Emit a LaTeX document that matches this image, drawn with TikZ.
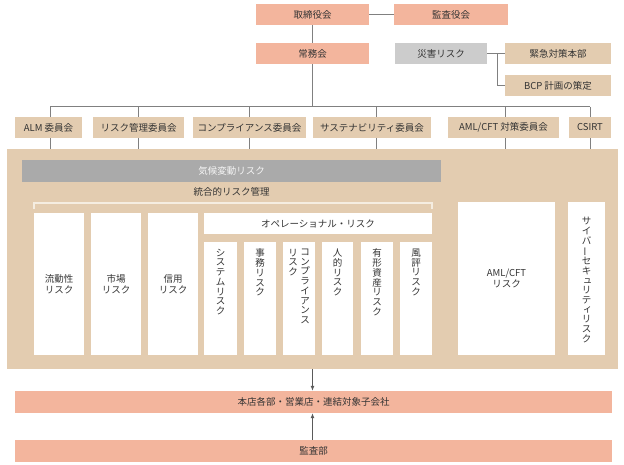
\documentclass[tikz,border=0pt]{standalone}
\usepackage{fontspec}
\usepackage{graphicx}
\setmainfont{Noto Sans CJK JP}
\usetikzlibrary{arrows.meta,calc}
\definecolor{salmonc}{HTML}{F3B59D}
\definecolor{tanc}{HTML}{E3CCB0}
\definecolor{grayl}{HTML}{CCCCCC}
\definecolor{grayd}{HTML}{AAAAAA}
\definecolor{txtc}{HTML}{333333}
\definecolor{linec}{HTML}{808080}
\definecolor{brk}{HTML}{F5EDE1}
\newcommand\vbar{\rotatebox[origin=c]{90}{ー}}
\newcommand\vsmall[1]{\makebox[1em]{\hspace{0.25em}\raisebox{0.06em}{#1}}}
\begin{document}
\begin{tikzpicture}[x=1pt,y=-1pt,
  font=\fontsize{9.5}{11.5}\selectfont,
  box/.style={inner sep=0pt, minimum height=21pt, anchor=center, text=txtc},
  sbox/.style={box, fill=salmonc},
  tbox/.style={box, fill=tanc},
  wbox/.style={box, fill=white},
  conn/.style={draw=linec, line width=0.8pt},
  arr/.style={conn, -{Latex[length=5pt,width=4pt]}, draw=linec!70!black, fill=linec!70!black},
  vtext/.style={inner sep=0pt, anchor=north, text=txtc, font=\fontsize{9.5}{9.7}\selectfont, align=center}]
\useasboundingbox (0,0) rectangle (624,465);

% top
\node[sbox, minimum width=113pt] (tori) at (312.5,14.5) {取締役会};
\node[sbox, minimum width=114pt] (kansa) at (451,14.5) {監査役会};
\node[sbox, minimum width=113pt] (jomu) at (312.5,53.5) {常務会};
\node[box, fill=grayl, minimum width=92pt] (saigai) at (441,53.5) {災害リスク};
\node[tbox, minimum width=106pt] (kinkyu) at (558,53.5) {緊急対策本部};
\node[tbox, minimum width=106pt] (bcp) at (558,85.5) {BCP 計画の策定};

% committees
\node[tbox, minimum width=67pt] (alm) at (48.5,127.5) {ALM 委員会};
\node[tbox, minimum width=91pt] (risk) at (138.5,127.5) {リスク管理委員会};
\node[tbox, minimum width=113pt] (comp) at (249.5,127.5) {コンプライアンス委員会};
\node[tbox, minimum width=118pt] (sus) at (372,127.5) {サステナビリティ委員会};
\node[tbox, minimum width=111pt] (aml) at (503.5,127.5) {AML/CFT 対策委員会};
\node[tbox, minimum width=42pt] (csirt) at (590,127.5) {CSIRT};

% big box
\node[tbox, minimum width=611pt, minimum height=220pt] (big) at (312.5,259) {};
\node[box, fill=grayd, minimum width=419pt, minimum height=22pt, text=white!92!gray] (kiko) at (231.5,171) {気候変動リスク};
\node[inner sep=0pt, text=txtc] (togo) at (231.5,192) {統合的リスク管理};
\coordinate (bl) at (34,209);
\coordinate (br) at (432,209);
\draw[draw=brk, line width=1.6pt] (bl) -- ++(0,-6) -| (br);

\node[wbox, minimum width=50pt, minimum height=142pt, align=center] (ryu) at (59,284) {流動性\\リスク};
\node[wbox, minimum width=50pt, minimum height=142pt, align=center] (shijo) at (116,284) {市場\\リスク};
\node[wbox, minimum width=50pt, minimum height=142pt, align=center] (shinyo) at (173,284) {信用\\リスク};
\node[wbox, minimum width=228pt, minimum height=21pt] (ops) at (318,223.5) {オペレーショナル・リスク};

\node[wbox, minimum width=33pt, minimum height=113pt] (sys) at (220.5,298.5) {};
\node[wbox, minimum width=32pt, minimum height=113pt] (jimu) at (260,298.5) {};
\node[wbox, minimum width=32pt, minimum height=113pt] (compr) at (299,298.5) {};
\node[wbox, minimum width=31pt, minimum height=113pt] (jin) at (337.5,298.5) {};
\node[wbox, minimum width=32pt, minimum height=113pt] (yukei) at (377,298.5) {};
\node[wbox, minimum width=32pt, minimum height=113pt] (fuhyo) at (416,298.5) {};

\node[vtext] (sysT) at ($(sys.north)+(0,7)$) {シ\\ス\\テ\\ム\\リ\\ス\\ク};
\node[vtext] (jimuT) at ($(jimu.north)+(0,7)$) {事\\務\\リ\\ス\\ク};
\node[vtext] (comprT) at ($(compr.north)+(6,7)$) {コ\\ン\\プ\\ラ\\イ\\ア\\ン\\ス};
\node[vtext] (comprT2) at ($(compr.north)+(-6,7)$) {リ\\ス\\ク};
\node[vtext] (jinT) at ($(jin.north)+(0,7)$) {人\\的\\リ\\ス\\ク};
\node[vtext] (yukeiT) at ($(yukei.north)+(0,7)$) {有\\形\\資\\産\\リ\\ス\\ク};
\node[vtext] (fuhyoT) at ($(fuhyo.north)+(0,7)$) {風\\評\\リ\\ス\\ク};

\node[wbox, minimum width=97pt, minimum height=153pt, align=center] (amlr) at (506.5,278.5) {AML/CFT\\リスク};
\node[wbox, minimum width=37pt, minimum height=153pt] (cyber) at (586.5,278.5) {};
\node[vtext, anchor=center] (cyberT) at ($(cyber.center)+(0,1.5)$) {サ\\イ\\バ\\\vbar\\セ\\キ\\\vsmall{ュ}\\リ\\テ\\\vsmall{ィ}\\リ\\ス\\ク};

% bottom
\node[sbox, minimum width=597pt, minimum height=22pt] (hon) at (313.5,402) {本店各部・営業店・連結対象子会社};
\node[sbox, minimum width=597pt, minimum height=22pt] (kanb) at (313.5,451) {監査部};

% connectors
\draw[conn] (tori.east) -- (kansa.west);
\draw[conn] (tori.south) -- (jomu.north);
\draw[conn] (saigai.east) -- (kinkyu.west);
\draw[conn] ($(saigai.east)+(10,0)$) |- (bcp.west);
\coordinate (busL) at ($(alm.north)+(1.5,-10)$);
\coordinate (busR) at ($(csirt.north)+(0,-10)$);
\draw[conn] (busL) -- (busR);
\draw[conn] (jomu.south) -- (jomu.south |- busL);
\draw[conn] (busL) -- (busL |- alm.north);
\draw[conn] (risk.north |- busL) -- (risk.north);
\draw[conn] (comp.north |- busL) -- (comp.north);
\draw[conn] ($(sus.north |- busL)+(4,0)$) -- ($(sus.north)+(4,0)$);
\draw[conn] ($(aml.north |- busL)+(1.5,0)$) -- ($(aml.north)+(1.5,0)$);
\draw[conn] (busR) -- (csirt.north);
\draw[conn] ($(alm.south)+(1.5,0)$) -- ($(alm.south |- big.north)+(1.5,0)$);
\draw[conn] (risk.south) -- (risk.south |- big.north);
\draw[conn] (comp.south) -- (comp.south |- big.north);
\draw[conn] ($(sus.south)+(4,0)$) -- ($(sus.south |- big.north)+(4,0)$);
\draw[conn] ($(aml.south)+(1.5,0)$) -- ($(aml.south |- big.north)+(1.5,0)$);
\draw[conn] (csirt.south) -- (csirt.south |- big.north);
\draw[arr] (big.south -| jomu.south) -- (hon.north -| jomu.south);
\draw[arr] (kanb.north -| jomu.south) -- (hon.south -| jomu.south);
\end{tikzpicture}
\end{document}
